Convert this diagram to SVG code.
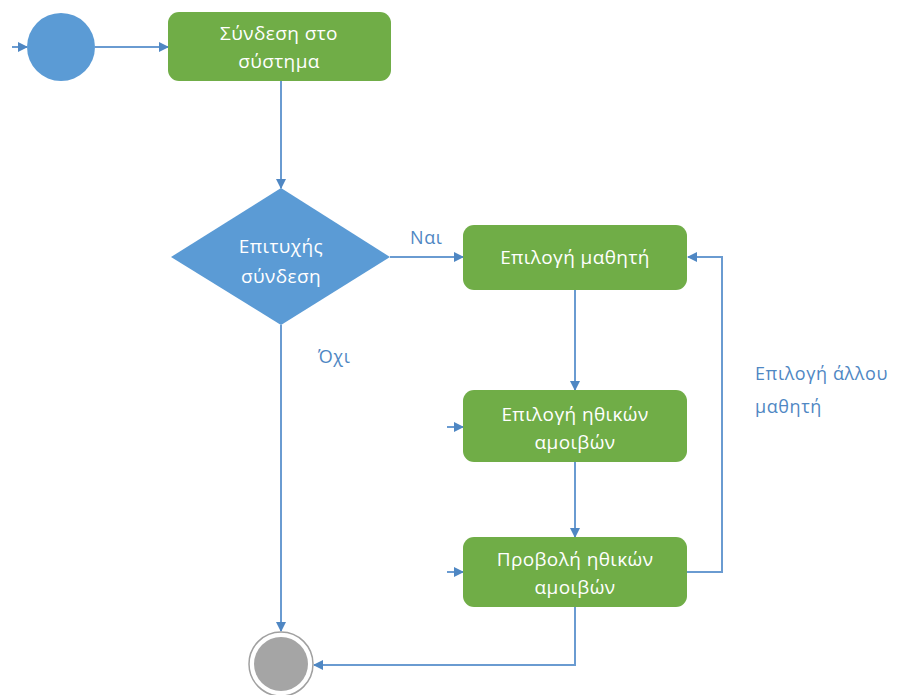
<svg xmlns="http://www.w3.org/2000/svg" width="905" height="695" viewBox="0 0 905 695">
<defs>
<marker id="arr" markerWidth="10" markerHeight="10" refX="9" refY="5" orient="auto" markerUnits="userSpaceOnUse">
<path d="M0,0 L10,5 L0,10 Z" fill="#4F87C3"/>
</marker>
<style>
.box{fill:#70AD47;}
.bt{font-family:"Open Sans","Noto Sans",sans-serif;font-size:19px;letter-spacing:0.4px;fill:#ffffff;text-anchor:middle;}
.lbl{font-family:"Open Sans","Noto Sans",sans-serif;font-size:18px;letter-spacing:0.6px;fill:#4F87C3;}
.c{fill:none;stroke:#6A9BD1;stroke-width:2;}
</style>
</defs>
<rect width="905" height="695" fill="#ffffff"/>
<g id="connectors">
<path class="c" d="M12,47 L27,47" marker-end="url(#arr)"/>
<path class="c" d="M95,47 L168,47" marker-end="url(#arr)"/>
<path class="c" d="M281,81 L281,188" marker-end="url(#arr)"/>
<path class="c" d="M390,257 L463,257" marker-end="url(#arr)"/>
<path class="c" d="M575,290 L575,390" marker-end="url(#arr)"/>
<path class="c" d="M447,427 L463,427" marker-end="url(#arr)"/>
<path class="c" d="M575,462 L575,537" marker-end="url(#arr)"/>
<path class="c" d="M447,572 L463,572" marker-end="url(#arr)"/>
<path class="c" d="M687,572 L722,572 L722,257 L688,257" marker-end="url(#arr)"/>
<path class="c" d="M575,607 L575,665 L314,665" marker-end="url(#arr)"/>
<path class="c" d="M281,325 L281,631" marker-end="url(#arr)"/>
<text class="lbl" x="410" y="244">Ναι</text>
<text class="lbl" x="318" y="363">Όχι</text>
<text class="lbl" x="755" y="380">Επιλογή άλλου</text>
<text class="lbl" x="755" y="413">μαθητή</text>
</g>
<g id="start">
<circle cx="61" cy="47" r="34" fill="#5B9BD5"/>
</g>
<g id="login">
<rect class="box" x="168" y="12" width="223" height="69" rx="11"/>
<text class="bt" x="279" y="40">Σύνδεση στο</text>
<text class="bt" x="279" y="68">σύστημα</text>
</g>
<g id="decision">
<polygon points="281,188 390,257 281,325 171,257" fill="#5B9BD5"/>
<text class="bt" x="281" y="253">Επιτυχής</text>
<text class="bt" x="281" y="283">σύνδεση</text>
</g>
<g id="selectStudent">
<rect class="box" x="463" y="225" width="224" height="65" rx="11"/>
<text class="bt" x="575" y="264">Επιλογή μαθητή</text>
</g>
<g id="selectRewards">
<rect class="box" x="463" y="390" width="224" height="72" rx="11"/>
<text class="bt" x="575" y="421">Επιλογή ηθικών</text>
<text class="bt" x="575" y="449">αμοιβών</text>
</g>
<g id="showRewards">
<rect class="box" x="463" y="537" width="224" height="70" rx="11"/>
<text class="bt" x="575" y="566">Προβολή ηθικών</text>
<text class="bt" x="575" y="594">αμοιβών</text>
</g>
<g id="end">
<circle cx="281" cy="664" r="32" fill="#ffffff" stroke="#A0A0A0" stroke-width="1.5"/>
<circle cx="281" cy="664" r="27" fill="#A5A5A5"/>
</g>
</svg>
